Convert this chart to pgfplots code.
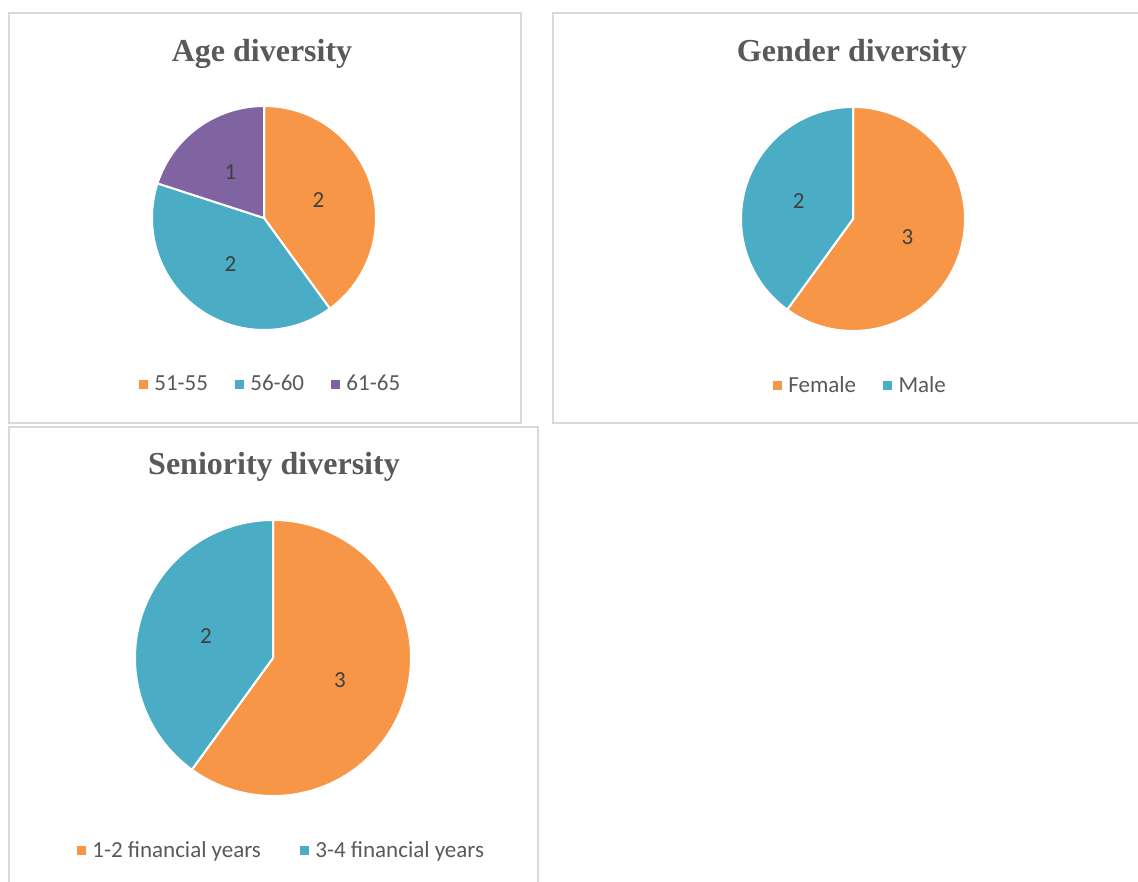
\documentclass[border=0pt]{standalone}
\usepackage{pgfplots}
\usepackage{pgfplotstable}
\pgfplotsset{compat=1.18}
\usepackage{fontspec}
\setmainfont{Carlito}
\newfontfamily\titlefont{Liberation Serif}

\definecolor{pieorange}{HTML}{F79646}
\definecolor{pieblue}{HTML}{4BACC6}
\definecolor{piepurple}{HTML}{8064A2}
\definecolor{framegray}{HTML}{D9D9D9}
\definecolor{titlegray}{HTML}{595959}
\definecolor{labelgray}{HTML}{404040}

\pgfplotstableread[col sep=comma]{
label,value
51-55,2
56-60,2
61-65,1
}\agedata
\pgfplotstableread[col sep=comma]{
label,value
Female,3
Male,2
}\genderdata
\pgfplotstableread[col sep=comma]{
label,value
1-2 financial years,3
3-4 financial years,2
}\senioritydata

% slices clockwise from 12 o'clock, sized by the table's value column
\newcommand\drawpie[3]{%
  \pgfplotstablegetrowsof{#1}%
  \pgfmathtruncatemacro\pielast{\pgfplotsretval-1}%
  \gdef\pietotal{0}%
  \foreach \i in {0,...,\pielast}{%
    \pgfplotstablegetelem{\i}{value}\of{#1}%
    \pgfmathsetmacro\pietmp{\pietotal+\pgfplotsretval}%
    \xdef\pietotal{\pietmp}}%
  \gdef\pieangle{90}%
  \foreach \c [count=\n from 0] in {#3}{%
    \pgfplotstablegetelem{\n}{value}\of{#1}%
    \let\pieval\pgfplotsretval
    \pgfmathsetmacro\piea{\pieangle}%
    \pgfmathsetmacro\pieb{\pieangle-360*\pieval/\pietotal}%
    \pgfmathsetmacro\piem{(\piea+\pieb)/2}%
    \fill[\c, draw=white, line width=2pt, line join=round]
      (axis cs:0,0) -- ++(\piea:#2) arc[start angle=\piea, end angle=\pieb, radius=#2] -- cycle;
    \path (axis cs:0,0) ++(\piem:0.51*#2)
      node[text=labelgray, font=\fontsize{23}{27}\selectfont]{\pieval};
    \xdef\pieangle{\pieb}}%
}

\pgfplotsset{
  pie/.style={
    scale only axis, hide axis, anchor=center,
    xmin=-1, xmax=1, ymin=-1, ymax=1,
    legend image code/.code={\fill[##1] (0pt,-4pt) rectangle (8pt,4pt); \path (14pt,0pt);},
    legend style={anchor=center, draw=none, fill=none, legend columns=-1,
      font=\fontsize{23}{27}\selectfont, text=titlegray, nodes={inner sep=1pt}},
  },
}

\begin{document}
\begin{tikzpicture}
\useasboundingbox (0pt,0pt) rectangle (1138pt,882pt);
\clip (0pt,0pt) rectangle (1138pt,882pt);

\draw[framegray, line width=2pt] (9pt,869pt) rectangle (520.5pt,459pt);
\draw[framegray, line width=2pt] (553pt,869pt) rectangle (1150pt,459pt);
\draw[framegray, line width=2pt] (9pt,455pt) rectangle (538pt,-10pt);

\node[anchor=base, text=titlegray, font=\titlefont\bfseries\fontsize{32}{36}\selectfont] at (262pt,820pt) {Age diversity};
\node[anchor=base, text=titlegray, font=\titlefont\bfseries\fontsize{32}{36}\selectfont] at (852pt,820pt) {Gender diversity};
\node[anchor=base, text=titlegray, font=\titlefont\bfseries\fontsize{32}{36}\selectfont] at (274pt,407pt) {Seniority diversity};

\begin{axis}[pie, at={(264pt,664pt)}, width=224pt, height=224pt,
  legend style={at={(0.527,-0.241)}, /tikz/every even column/.append style={column sep=26pt}}]
  \addplot[draw=none, forget plot] coordinates {(0,0)};
  \pgfplotsextra{\drawpie{\agedata}{112pt}{pieorange,pieblue,piepurple}}
  \addlegendimage{pieorange}\addlegendentry{51-55}
  \addlegendimage{pieblue}\addlegendentry{56-60}
  \addlegendimage{piepurple}\addlegendentry{61-65}
\end{axis}

\begin{axis}[pie, at={(853pt,663pt)}, width=224pt, height=224pt,
  legend style={at={(0.531,-0.241)}, /tikz/every even column/.append style={column sep=26pt}}]
  \addplot[draw=none, forget plot] coordinates {(0,0)};
  \pgfplotsextra{\drawpie{\genderdata}{112pt}{pieorange,pieblue}}
  \addlegendimage{pieorange}\addlegendentry{Female}
  \addlegendimage{pieblue}\addlegendentry{Male}
\end{axis}

\begin{axis}[pie, at={(273pt,224pt)}, width=276pt, height=276pt,
  legend style={at={(0.529,-0.196)}, /tikz/every even column/.append style={column sep=38pt}}]
  \addplot[draw=none, forget plot] coordinates {(0,0)};
  \pgfplotsextra{\drawpie{\senioritydata}{138pt}{pieorange,pieblue}}
  \addlegendimage{pieorange}\addlegendentry{1-2 financial years}
  \addlegendimage{pieblue}\addlegendentry{3-4 financial years}
\end{axis}
\end{tikzpicture}
\end{document}
